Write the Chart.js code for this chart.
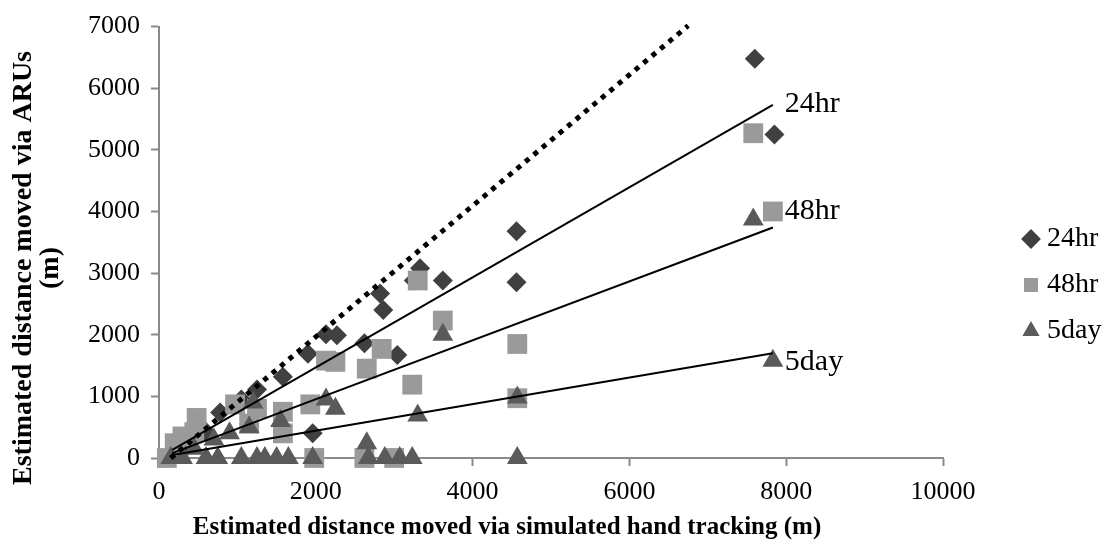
<!DOCTYPE html>
<html>
<head>
<meta charset="utf-8">
<script src="https://cdn.jsdelivr.net/npm/chart.js@4/dist/chart.umd.min.js"></script>
<style>
  html, body { margin: 0; padding: 0; background: #ffffff; }
  #wrap { width: 1103px; height: 548px; }
</style>
</head>
<body>
<div id="wrap"><canvas id="c" width="1103" height="548"></canvas></div>
<script>
// ---------------- data ----------------
const seriesNames = ['24hr', '48hr', '5day'];

// 24hr (diamonds)
const x24 = [100, 350, 600, 780, 1050, 1250, 1580, 1900, 1960, 2130, 2270, 2620, 2820, 2860, 3040, 3250, 3330, 3620, 4560, 4560, 7600, 7850];
const y24 = [0, 180, 420, 740, 950, 1110, 1320, 1690, 400, 2010, 1990, 1860, 2670, 2400, 1670, 2880, 3080, 2880, 3680, 2850, 6480, 5250];

// 48hr (squares)
const x48 = [100, 200, 300, 450, 480, 970, 1150, 1250, 1580, 1580, 1930, 1980, 2130, 2250, 2620, 2650, 2840, 3000, 3230, 3300, 3620, 4570, 4570, 7580, 7830];
const y48 = [0, 240, 350, 420, 650, 870, 560, 800, 750, 400, 870, 0, 1580, 1560, 0, 1450, 1770, 0, 1190, 2880, 2230, 1850, 970, 5270, 4000];

// 5day (triangles)
const x5d = [150, 300, 450, 600, 700, 750, 900, 1050, 1150, 1200, 1250, 1350, 1500, 1550, 1650, 1960, 2130, 2250, 2650, 2670, 2880, 3070, 3230, 3300, 3620, 4570, 4570, 7580, 7830];
const y5d = [0, 0, 150, 0, 300, 0, 400, 0, 500, 900, 0, 0, 0, 600, 0, 0, 950, 800, 240, 0, 0, 0, 0, 690, 2000, 980, 0, 3870, 1580];

// linear trend lines (end points)
const trendX = [170, 7830];
const trend24 = [130, 5730];
const trend48 = [80, 3740];
const trend5d = [50, 1700];

// dotted reference line
const refX = [150, 6750];
const refY = [0, 7015];

// axis ticks
const xTicks = [0, 2000, 4000, 6000, 8000, 10000];
const yTicks = [0, 1000, 2000, 3000, 4000, 5000, 6000, 7000];

// texts
const xTitle = 'Estimated distance moved via simulated hand tracking (m)';
const yTitle = ['Estimated distance moved via ARUs', '(m)'];

// ---------------- chart ----------------
const toPts = (xs, ys) => xs.map((x, i) => ({ x: x, y: ys[i] }));
const FONT = "'Liberation Serif', 'Times New Roman', serif";
Chart.defaults.font.family = FONT;
Chart.defaults.color = '#000000';

const overlay = {
  id: 'overlay',
  afterLayout(chart, args, opts) {
    const lg = chart.legend;
    if (lg) {
      const w = lg.width, h = lg.height;
      lg.left = opts.legendLeft; lg.top = opts.legendTop;
      lg.right = lg.left + w; lg.bottom = lg.top + h;
    }
  },
  afterDatasetsDraw(chart, args, opts) {
    const ctx = chart.ctx;
    const xs = chart.scales.x, ys = chart.scales.y;
    const ends = [trend24, trend48, trend5d];
    ctx.save();
    ctx.fillStyle = '#000';
    ctx.font = '30px ' + FONT;
    ctx.textAlign = 'left';
    ctx.textBaseline = 'middle';
    ends.forEach((t, i) => {
      const px = xs.getPixelForValue(trendX[1]);
      const py = ys.getPixelForValue(t[1]);
      ctx.fillText(seriesNames[i], px + opts.labelDx, py + opts.labelDy[i]);
    });
    ctx.restore();
  },
  afterDraw(chart, args, opts) {
    const ctx = chart.ctx;
    ctx.save();
    ctx.fillStyle = '#000';
    ctx.textAlign = 'center';
    ctx.textBaseline = 'middle';
    ctx.font = 'bold 25px ' + FONT;
    ctx.fillText(xTitle, opts.xTitleX, opts.xTitleY);
    ctx.translate(opts.yTitleX, opts.yTitleY);
    ctx.rotate(-Math.PI / 2);
    ctx.font = 'bold 28px ' + FONT;
    yTitle.forEach((t, i) => ctx.fillText(t, 0, i * opts.yTitleLine));
    ctx.restore();
  }
};

const AXIS_GREY = '#8a8a8a';
const plain = v => String(v);

new Chart(document.getElementById('c'), {
  type: 'scatter',
  data: {
    datasets: [
      { label: seriesNames[0], data: toPts(x24, y24), pointStyle: 'rectRot', pointRadius: 10,
        backgroundColor: '#404040', borderColor: '#404040', borderWidth: 0, order: 3, clip: false },
      { label: seriesNames[1], data: toPts(x48, y48), pointStyle: 'rect', pointRadius: 14,
        backgroundColor: '#9a9a9a', borderColor: '#9a9a9a', borderWidth: 0, order: 2, clip: false },
      { label: seriesNames[2], data: toPts(x5d, y5d), pointStyle: 'triangle', pointRadius: 12,
        backgroundColor: '#5a5a5a', borderColor: '#5a5a5a', borderWidth: 0, order: 1, clip: false },
      { label: 'trend 24hr', data: toPts(trendX, trend24), showLine: true, pointRadius: 0,
        borderColor: '#000', borderWidth: 2, order: 0 },
      { label: 'trend 48hr', data: toPts(trendX, trend48), showLine: true, pointRadius: 0,
        borderColor: '#000', borderWidth: 2, order: 0 },
      { label: 'trend 5day', data: toPts(trendX, trend5d), showLine: true, pointRadius: 0,
        borderColor: '#000', borderWidth: 2, order: 0 },
      { label: '1:1', data: toPts(refX, refY), showLine: true, pointRadius: 0,
        borderColor: '#000', borderWidth: 5, borderDash: [5, 6], borderCapStyle: 'butt', order: 0, clip: false }
    ]
  },
  options: {
    responsive: false,
    animation: false,
    devicePixelRatio: 1,
    events: [],
    layout: { padding: { top: 18, right: 160, bottom: 0, left: 0 } },
    scales: {
      x: {
        type: 'linear', position: 'bottom',
        min: xTicks[0], max: xTicks[xTicks.length - 1],
        afterBuildTicks: s => { s.ticks = xTicks.map(v => ({ value: v })); },
        afterFit: s => { s.height = 90; },
        ticks: { font: { size: 26 }, color: '#000', padding: 11, maxRotation: 0, callback: plain },
        grid: { drawOnChartArea: false, drawTicks: true, tickLength: 8, tickColor: AXIS_GREY, tickWidth: 2 },
        border: { display: true, color: AXIS_GREY, width: 2 },
        title: { display: false }
      },
      y: {
        type: 'linear', position: 'left',
        min: yTicks[0], max: yTicks[yTicks.length - 1],
        afterBuildTicks: s => { s.ticks = yTicks.map(v => ({ value: v })); },
        afterFit: s => { s.width = 159; },
        ticks: { font: { size: 26 }, color: '#000', padding: 11, callback: plain },
        grid: { drawOnChartArea: false, drawTicks: true, tickLength: 8, tickColor: AXIS_GREY, tickWidth: 2 },
        border: { display: true, color: AXIS_GREY, width: 2 },
        title: { display: false }
      }
    },
    plugins: {
      tooltip: { enabled: false },
      legend: {
        display: true,
        position: 'chartArea',
        align: 'start',
        labels: {
          usePointStyle: true, boxWidth: 4, boxHeight: 14, padding: 18,
          font: { size: 28 }, color: '#000',
          filter: item => item.datasetIndex < 3,
          sort: (a, b) => a.datasetIndex - b.datasetIndex
        }
      },
      overlay: {
        legendLeft: 1011, legendTop: 207,
        labelDx: 12, labelDy: [-1, -16, 9],
        xTitleX: 507, xTitleY: 528,
        yTitleX: 24, yTitleY: 268, yTitleLine: 27
      }
    }
  },
  plugins: [overlay]
});
</script>
</body>
</html>
